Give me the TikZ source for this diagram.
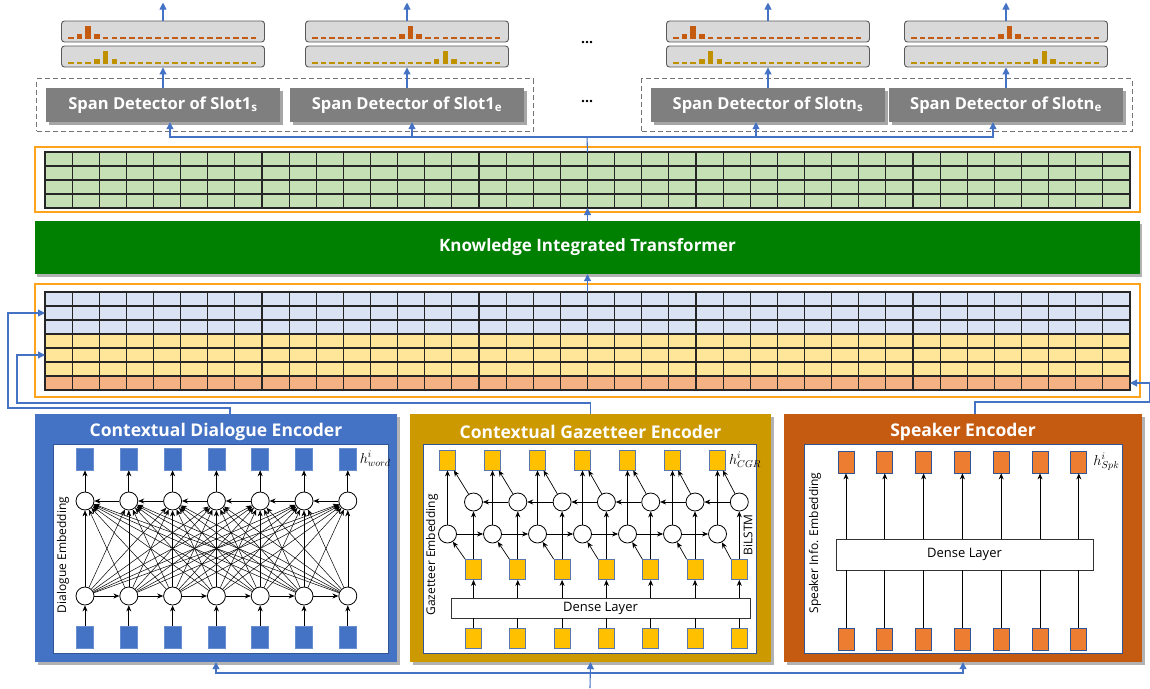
\documentclass[tikz,border=0pt]{standalone}
\usepackage{fontspec}
\setmainfont{Open Sans}
\usetikzlibrary{arrows.meta,positioning,calc,fit,shadows}
\definecolor{dblue}{HTML}{4472C4}
\definecolor{ggold}{HTML}{CC9900}
\definecolor{sbrown}{HTML}{C55A11}
\definecolor{kitgreen}{HTML}{008000}
\definecolor{cgreen}{HTML}{C5E0B4}
\definecolor{cblue}{HTML}{DAE3F3}
\definecolor{cyellow}{HTML}{FFE699}
\definecolor{corange}{HTML}{F4B183}
\definecolor{frameorange}{HTML}{FFA31A}
\definecolor{sdgray}{HTML}{7F7F7F}
\definecolor{histgray}{HTML}{D9D9D9}
\definecolor{barorange}{HTML}{C55A11}
\definecolor{bargold}{HTML}{BF9000}
\definecolor{sqgold}{HTML}{FFC000}
\definecolor{sqorange}{HTML}{ED7D31}
\definecolor{edgeblue}{HTML}{2F5597}
\tikzset{
  flow/.style={-{Triangle[length=7pt,width=7pt]},dblue,line width=1.1pt},
  link/.style={dblue,line width=1.1pt},
  arr/.style={-{Stealth[length=6pt,width=5pt]},black,line width=.7pt},
  wire/.style={black,line width=.7pt},
  histbox/.style={draw=black!65,fill=histgray,rounded corners=3pt,line width=.9pt,minimum width=203pt,minimum height=21pt,inner sep=0pt},
  sdbox/.style={fill=sdgray,text=white,font=\bfseries\fontsize{16.5}{19}\selectfont,minimum width=234pt,minimum height=34pt,inner sep=0pt,drop shadow={shadow xshift=2.5pt,shadow yshift=-2.5pt,opacity=.35,fill=black}},
  grpbox/.style={draw=black!55,dash pattern=on 5pt off 3pt,line width=1.1pt,inner sep=9pt},
  frame/.style={draw=frameorange,line width=1.5pt,minimum width=1105pt,inner sep=0pt},
  cellbox/.style={minimum width=1085pt,inner sep=0pt,outer sep=0pt},
  cellline/.style={black!85,line width=1.1pt},
  kitbox/.style={fill=kitgreen,text=white,font=\bfseries\fontsize{17}{20}\selectfont,minimum width=1105pt,minimum height=53pt,inner sep=0pt,drop shadow={shadow xshift=2pt,shadow yshift=-3pt,opacity=.3,fill=black}},
  encbox/.style={minimum height=248pt,inner sep=0pt,drop shadow={shadow xshift=3pt,shadow yshift=-3pt,opacity=.3,fill=black}},
  enctitle/.style={text=white,font=\bfseries\fontsize{17.5}{20}\selectfont,inner sep=0pt},
  innerbox/.style={draw=edgeblue,fill=white,line width=.9pt,minimum height=209pt,inner sep=0pt},
  cell/.style={circle,draw=black,fill=white,line width=.8pt,minimum size=18pt,inner sep=0pt},
  dsq/.style={fill=dblue,draw=dblue!80!white,line width=.6pt,minimum width=17pt,minimum height=22pt,inner sep=0pt},
  gsq/.style={fill=sqgold,draw=edgeblue!80,line width=.8pt,minimum width=16pt,minimum height=20pt,inner sep=0pt},
  ssq/.style={fill=sqorange,draw=edgeblue,line width=.8pt,minimum width=16pt,minimum height=22pt,inner sep=0pt},
  dense/.style={draw=black!80,fill=white,line width=.9pt,font=\fontsize{13}{15}\selectfont,inner sep=0pt},
  side/.style={rotate=90,font=\fontsize{12}{14}\selectfont,inner sep=0pt},
  hlab/.style={font=\fontsize{14}{16}\selectfont,inner sep=0pt}
}
% one probability row: node, colour, first slot of the peak
\newcommand{\histo}[3]{%
  \foreach \k in {0,...,21}{%
    \pgfmathsetmacro{\hh}{\k==#3 ? 5 : (\k==#3+1 ? 13 : (\k==#3+2 ? 5 : 1.6))}%
    \fill[#2] ($(#1.south west)+(7+\k*8.7,-3.5)$) rectangle ++(5.6,-\hh);}}
\begin{document}
\begin{tikzpicture}[x=1pt,y=-1pt]
\useasboundingbox (0,0) rectangle (1150,688);
% span detectors and their outputs
\node[sdbox] (sdA) at (163,105) {Span Detector of Slot1\textsubscript{s}};
\node[sdbox] (sdB) at (407,105) {Span Detector of Slot1\textsubscript{e}};
\node[sdbox] (sdC) at (768,105) {Span Detector of Slotn\textsubscript{s}};
\node[sdbox] (sdD) at (1006,105) {Span Detector of Slotn\textsubscript{e}};
\node[grpbox,fit=(sdA)(sdB)] (grpL) {};
\node[grpbox,fit=(sdC)(sdD)] (grpR) {};
\foreach \n/\x/\a/\b in {A/163/1/3,B/407/10/14,C/768/1/3,D/1006/10/14}{
  \node[histbox] (h\n1) at (\x,31.5) {};
  \node[histbox] (h\n2) at (\x,56.5) {};
  \histo{h\n1}{barorange}{\a}
  \histo{h\n2}{bargold}{\b}
  \draw[flow] (h\n1.north) -- ++(0,-18);
  \draw[flow] (sd\n.north) -- (h\n2.south);
}
\node[font=\bfseries\fontsize{14}{16}\selectfont] (dotsA) at (587,43) {...};
\node[font=\bfseries\fontsize{14}{16}\selectfont] (dotsB) at (587,102) {...};

% knowledge grid and transformer
\node[frame,minimum height=65pt] (kframe) at (587.5,179.5) {};
\node[cellbox,fill=cgreen,minimum height=56pt] (kgrid) at (587.5,180) {};
\foreach \i in {1,...,39} \draw[cellline] ($(kgrid.north west)+(\i*27.125,0)$) -- ++(0,56);
\foreach \j in {1,2,3} \draw[cellline] ($(kgrid.north west)+(0,\j*14)$) -- ++(1085,0);
\draw[cellline] (kgrid.north west) rectangle (kgrid.south east);
\node[kitbox] (kit) at (587.5,247.5) {Knowledge Integrated Transformer};
\node[frame,minimum height=113pt] (eframe) at (587.5,340.5) {};
\node[cellbox,minimum height=98pt] (egrid) at (587.5,341) {};
\fill[cblue] (egrid.north west) rectangle ($(egrid.north east)+(0,42)$);
\fill[cyellow] ($(egrid.north west)+(0,42)$) rectangle ($(egrid.north east)+(0,84)$);
\fill[corange] ($(egrid.north west)+(0,84)$) rectangle (egrid.south east);
\foreach \i in {1,...,39} \draw[cellline] ($(egrid.north west)+(\i*27.125,0)$) -- ++(0,98);
\foreach \j in {1,...,6} \draw[cellline] ($(egrid.north west)+(0,\j*14)$) -- ++(1085,0);
\draw[cellline] (egrid.north west) rectangle (egrid.south east);
\draw[flow] (egrid.north) -- (kit.south);
\draw[flow] (kit.north) -- (kgrid.south);
\coordinate (bus) at (587,137);
\draw[link] (kgrid.north) -- (bus);
\foreach \n/\d in {A/7,B/5,C/-12,D/-13} \draw[flow] (bus) -| ([xshift=\d pt]sd\n.south);

% contextual dialogue encoder
\node[encbox,fill=dblue,minimum width=362pt] (dia) at (216,538) {};
\node[enctitle] (diaT) at ($(dia.north)+(0,18)$) {Contextual Dialogue Encoder};
\node[innerbox,minimum width=335pt] (diaIn) at (220.5,548.5) {};
\foreach \k in {0,...,6}{
  \pgfmathsetmacro\x{85+43.8*\k}
  \node[dsq] (dOut\k) at (\x,459) {};
  \node[cell] (dTop\k) at (\x,501) {};
  \node[cell] (dBot\k) at (\x,596) {};
  \node[dsq] (dIn\k) at (\x,637) {};
  \draw[arr] (dIn\k) -- (dBot\k);
  \draw[arr] (dTop\k) -- (dOut\k);
}
\foreach \k [count=\j from 1] in {0,...,5}{
  \draw[arr] (dBot\k) -- (dBot\j);
  \draw[arr] (dTop\j) -- (dTop\k);
}
\foreach \i in {0,...,6} \foreach \j in {0,...,6} \draw[arr,line width=.5pt] (dBot\i) -- (dTop\j);
\node[side] (dLab) at (63,555) {Dialogue Embedding};
\node[hlab,right=3pt of dOut6] (dH) {$h^{i}_{word}$};

% contextual gazetteer encoder
\node[encbox,fill=ggold,minimum width=361pt] (gaz) at (590.5,538) {};
\node[enctitle] (gazT) at ($(gaz.north)+(0,18)$) {Contextual Gazetteer Encoder};
\node[innerbox,minimum width=333pt] (gazIn) at (589.5,548.5) {};
\node[dense,minimum width=299pt,minimum height=20pt] (gDense) at (600.5,608) {Dense Layer};
\foreach \k in {0,...,6}{
  \pgfmathsetmacro\x{447.5+45*\k}
  \pgfmathsetmacro\xb{473.5+44.3*\k}
  \node[gsq] (gOut\k) at (\x,460) {};
  \node[cell] (gFwd\k) at (\x,534) {};
  \node[cell] (gBwd\k) at (\xb,502) {};
  \node[gsq] (gMid\k) at (\xb,569.5) {};
  \node[gsq] (gIn\k) at (\xb,638) {};
  \draw[wire] (gIn\k) -- (gIn\k |- gDense.south);
  \draw[arr] (gMid\k |- gDense.north) -- (gMid\k);
  \draw[arr] (gMid\k.north west) -- (gFwd\k);
  \draw[arr] (gMid\k) -- (gBwd\k);
  \draw[arr] (gFwd\k) -- (gOut\k);
  \draw[arr] (gBwd\k) -- (gOut\k);
}
\foreach \k [count=\j from 1] in {0,...,5}{
  \draw[arr] (gFwd\k) -- (gFwd\j);
  \draw[arr] (gBwd\j) -- (gBwd\k);
}
\node[side] (gLab) at (432,555) {Gazetteer Embedding};
\node[side] (gBi) at (748,535) {BiLSTM};
\node[hlab,right=3pt of gOut6] (gH) {$h^{i}_{CGR}$};

% speaker encoder
\node[encbox,fill=sbrown,minimum width=358pt] (spk) at (963,538) {};
\node[enctitle] (spkT) at ($(spk.north)+(0,18)$) {Speaker Encoder};
\node[innerbox,minimum width=318pt] (spkIn) at (963,548.5) {};
\node[dense,minimum width=257pt,minimum height=31pt] (sDense) at (964.5,554.5) {Dense Layer};
\foreach \k in {0,...,6}{
  \pgfmathsetmacro\x{846+38.8*\k}
  \node[ssq] (sOut\k) at (\x,462) {};
  \node[ssq] (sIn\k) at (\x,639) {};
  \draw[wire] (sIn\k) -- (sIn\k |- sDense.south);
  \draw[arr] (sOut\k |- sDense.north) -- (sOut\k);
}
\node[side] (sLab) at (815,543) {Speaker Info. Embedding};
\node[hlab,right=6pt of sOut6] (sH) {$h^{i}_{Spk}$};

% encoders into the embedding grid
\coordinate (dBend) at (8,408);
\coordinate (gBend) at (17,403);
\coordinate (sBend) at (1149.5,402);
\draw[flow] ([xshift=14pt]dia.north) |- (dBend) |- ($(egrid.north west)+(0,21)$);
\draw[flow] (gaz.north) |- (gBend) |- ($(egrid.north west)+(0,63)$);
\draw[flow] ([xshift=12pt]spk.north) |- (sBend) |- ($(egrid.south east)+(0,-7)$);

% input
\coordinate (inp) at (590,688);
\coordinate (bbus) at (590,673);
\draw[flow] (inp) -- (gaz.south);
\draw[flow] (bbus) -| (dia.south);
\draw[flow] (bbus) -| (spk.south);
\end{tikzpicture}
\end{document}
